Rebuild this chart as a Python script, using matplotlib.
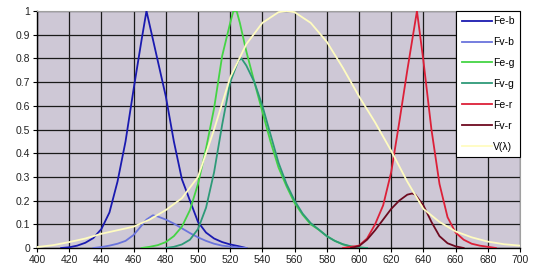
import matplotlib
matplotlib.use("Agg")
import matplotlib.pyplot as plt

plt.rcParams['font.family'] = ['Liberation Sans', 'DejaVu Sans']

# ---- data (wavelength nm, relative value) ----
feb_wl = [415, 420, 425, 430, 435, 440, 445, 450, 455, 460, 465, 468, 470, 475, 480, 485, 490, 495, 500, 505, 510, 515, 520, 525, 530]
feb_v = [0, 0.003, 0.01, 0.022, 0.042, 0.08, 0.15, 0.28, 0.45, 0.67, 0.88, 1.0, 0.94, 0.79, 0.64, 0.45, 0.29, 0.2, 0.11, 0.065, 0.04, 0.025, 0.015, 0.008, 0]

fvb_wl = [435, 440, 445, 450, 455, 460, 465, 468, 472, 475, 480, 485, 490, 495, 500, 505, 510, 515, 520, 525, 530]
fvb_v = [0, 0.004, 0.01, 0.018, 0.03, 0.055, 0.095, 0.12, 0.138, 0.133, 0.12, 0.103, 0.083, 0.063, 0.045, 0.03, 0.018, 0.01, 0.006, 0.002, 0]

feg_wl = [465, 470, 475, 480, 485, 490, 495, 500, 505, 510, 515, 520, 522, 524, 526, 530, 535, 540, 545, 550, 555, 560, 565, 570, 575, 580, 585, 590, 595, 600, 605]
feg_v = [0, 0.005, 0.012, 0.025, 0.05, 0.09, 0.16, 0.27, 0.42, 0.59, 0.81, 0.95, 1.0, 1.0, 0.95, 0.83, 0.7, 0.575, 0.45, 0.34, 0.26, 0.19, 0.14, 0.1, 0.077, 0.05, 0.03, 0.015, 0.006, 0.002, 0]

fvg_wl = [480, 485, 490, 495, 500, 505, 510, 515, 520, 525, 527, 530, 535, 540, 545, 550, 555, 560, 565, 570, 575, 580, 585, 590, 595, 600, 605]
fvg_v = [0, 0.005, 0.015, 0.035, 0.08, 0.17, 0.32, 0.52, 0.7, 0.79, 0.8, 0.77, 0.7, 0.6, 0.48, 0.36, 0.27, 0.2, 0.145, 0.105, 0.078, 0.05, 0.03, 0.016, 0.007, 0.002, 0]

fer_wl = [590, 595, 600, 605, 610, 615, 620, 625, 630, 636, 640, 645, 650, 655, 660, 665, 670, 675, 680, 685]
fer_v = [0, 0.005, 0.01, 0.04, 0.1, 0.18, 0.32, 0.53, 0.75, 1.0, 0.79, 0.5, 0.27, 0.13, 0.065, 0.035, 0.018, 0.01, 0.005, 0]

fvr_wl = [595, 600, 605, 610, 615, 620, 625, 630, 633, 635, 640, 645, 650, 655, 660, 665]
fvr_v = [0, 0.008, 0.035, 0.075, 0.12, 0.165, 0.2, 0.225, 0.23, 0.225, 0.18, 0.11, 0.05, 0.02, 0.007, 0]

vl_wl = [400, 410, 420, 430, 440, 450, 460, 470, 480, 490, 500, 510, 520, 530, 540, 550, 555, 560, 570, 580, 590, 600, 610, 620, 630, 640, 650, 660, 670, 680, 690, 700]
vl_v = [0.004, 0.012, 0.025, 0.04, 0.06, 0.075, 0.09, 0.12, 0.16, 0.21, 0.3, 0.5, 0.72, 0.86, 0.95, 0.995, 1.0, 0.995, 0.95, 0.87, 0.76, 0.64, 0.53, 0.41, 0.28, 0.165, 0.11, 0.07, 0.045, 0.027, 0.016, 0.01]

labels = ["Fe-b", "Fv-b", "Fe-g", "Fv-g", "Fe-r", "Fv-r", "V(λ)"]
colors = ["#1a1ab0", "#6a74dc", "#44d444", "#2e9a78", "#dc2038", "#6e0a20", "#fffcc0"]

x_ticks = list(range(400, 701, 20))
y_ticks = [0, 0.1, 0.2, 0.3, 0.4, 0.5, 0.6, 0.7, 0.8, 0.9, 1]
y_ticklabels = ["0", "0.1", "0.2", "0.3", "0.4", "0.5", "0.6", "0.7", "0.8", "0.9", "1"]

series = [(feb_wl, feb_v), (fvb_wl, fvb_v), (feg_wl, feg_v), (fvg_wl, fvg_v),
          (fer_wl, fer_v), (fvr_wl, fvr_v), (vl_wl, vl_v)]

fig = plt.figure(figsize=(5.36, 2.76), dpi=100)
fig.patch.set_facecolor("white")
ax = fig.add_axes([37 / 536, 1 - 248 / 276, (520 - 37) / 536, (248 - 11) / 276])
ax.set_facecolor("#cec8d6")

for (wl, v), lab, c in zip(series, labels, colors):
    ax.plot(wl, v, color=c, lw=1.3, label=lab, zorder=3)

ax.set_xlim(400, 700)
ax.set_ylim(0, 1)
ax.set_xticks(x_ticks)
ax.set_yticks(y_ticks)
ax.set_yticklabels(y_ticklabels)
ax.grid(True, color="#1a1a1a", lw=0.9, zorder=1)
ax.set_axisbelow(True)
ax.tick_params(axis="both", labelsize=7.5, length=3, width=0.8, color="black",
               labelcolor="#222222", pad=2)
for s in ["top", "right"]:
    ax.spines[s].set_color("#a0a0a0")
    ax.spines[s].set_linewidth(0.8)
for s in ["left", "bottom"]:
    ax.spines[s].set_color("black")
    ax.spines[s].set_linewidth(1.0)

leg = ax.legend(loc="upper right", bbox_to_anchor=(1.0, 1.0), fontsize=7.5,
                frameon=True, fancybox=False, handlelength=2.9, handletextpad=0.15,
                labelspacing=1.05, borderpad=0.5, borderaxespad=0.0)
leg.get_frame().set_edgecolor("black")
leg.get_frame().set_linewidth(0.8)
leg.get_frame().set_facecolor("white")
leg.get_frame().set_alpha(1.0)

fig.savefig("out.png", dpi=100)
